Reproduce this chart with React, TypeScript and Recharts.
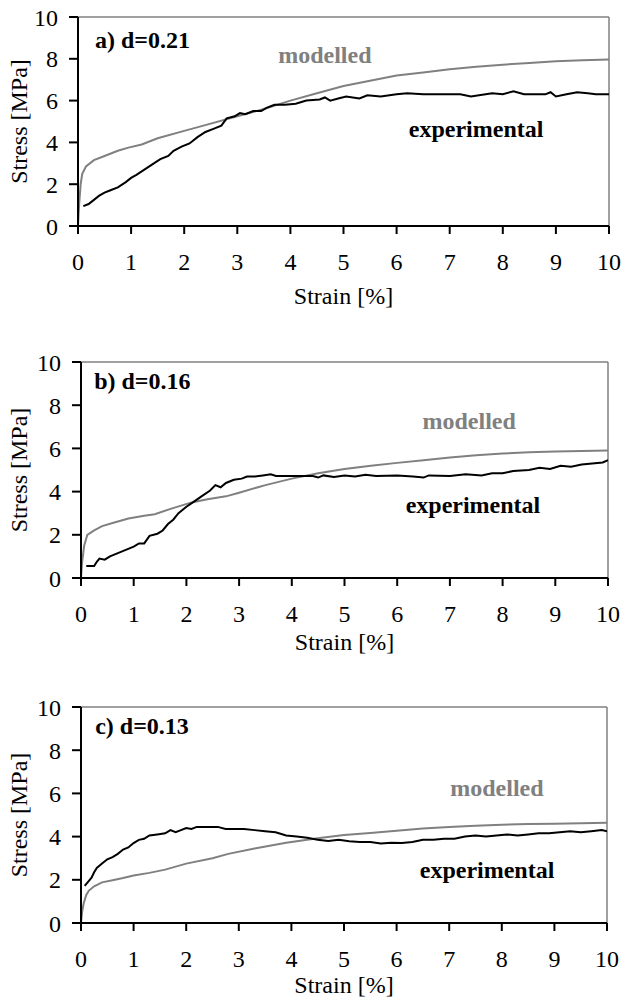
import React from "react";
import {
  LineChart,
  Line,
  XAxis,
  YAxis,
  ReferenceLine,
  ReferenceDot,
} from "recharts";

type Pt = [number, number];

const STRAIN_TICKS = [0, 1, 2, 3, 4, 5, 6, 7, 8, 9, 10];
const STRESS_TICKS = [0, 2, 4, 6, 8, 10];

// a) d=0.21
const modelledA: Pt[] = [
  [0, 0], [0.02, 1.0], [0.05, 2.0], [0.08, 2.5], [0.15, 2.85], [0.3, 3.15],
  [0.5, 3.35], [0.75, 3.6], [0.95, 3.75], [1.2, 3.9], [1.5, 4.2], [2, 4.55],
  [2.5, 4.9], [3, 5.25], [3.5, 5.6], [4, 6.0], [4.5, 6.35], [5, 6.7],
  [5.5, 6.95], [6, 7.2], [6.5, 7.35], [7, 7.5], [7.5, 7.62], [8, 7.72],
  [8.5, 7.8], [9, 7.88], [9.5, 7.93], [10, 7.97],
];
const experimentalA: Pt[] = [
  [0.1, 0.95], [0.2, 1.05], [0.3, 1.25], [0.4, 1.45], [0.5, 1.6], [0.6, 1.7],
  [0.75, 1.85], [0.9, 2.1], [1.0, 2.3], [1.1, 2.45], [1.25, 2.7], [1.4, 2.95],
  [1.55, 3.2], [1.7, 3.35], [1.8, 3.6], [1.95, 3.8], [2.1, 3.95], [2.25, 4.25],
  [2.4, 4.5], [2.55, 4.65], [2.7, 4.8], [2.8, 5.15], [2.95, 5.25], [3.05, 5.4],
  [3.15, 5.35], [3.3, 5.5], [3.45, 5.5], [3.55, 5.65], [3.7, 5.8], [3.9, 5.8],
  [4.1, 5.85], [4.3, 6.0], [4.55, 6.05], [4.65, 6.15], [4.75, 6.0], [4.9, 6.1],
  [5.05, 6.2], [5.3, 6.1], [5.45, 6.25], [5.7, 6.2], [6.0, 6.3], [6.2, 6.35],
  [6.5, 6.3], [6.8, 6.3], [7.2, 6.3], [7.4, 6.2], [7.8, 6.35], [8.0, 6.3],
  [8.2, 6.45], [8.4, 6.3], [8.8, 6.3], [8.9, 6.4], [9.0, 6.2], [9.2, 6.3],
  [9.4, 6.4], [9.6, 6.35], [9.75, 6.3], [10, 6.3],
];

// b) d=0.16
const modelledB: Pt[] = [
  [0, 0], [0.02, 0.7], [0.06, 1.5], [0.12, 2.0], [0.25, 2.2], [0.4, 2.4],
  [0.6, 2.55], [0.9, 2.75], [1.2, 2.88], [1.4, 2.95], [1.7, 3.2], [2.1, 3.5],
  [2.4, 3.65], [2.75, 3.78], [3.0, 3.95], [3.5, 4.3], [4.0, 4.6], [4.5, 4.85],
  [5, 5.05], [5.5, 5.2], [6, 5.33], [6.5, 5.45], [7, 5.58], [7.5, 5.68],
  [8, 5.76], [8.5, 5.82], [9, 5.86], [9.5, 5.88], [10, 5.9],
];
const experimentalB: Pt[] = [
  [0.1, 0.55], [0.25, 0.55], [0.3, 0.75], [0.35, 0.9], [0.45, 0.85], [0.55, 1.0],
  [0.7, 1.15], [0.85, 1.3], [1.0, 1.45], [1.1, 1.6], [1.2, 1.6], [1.3, 1.95],
  [1.45, 2.05], [1.55, 2.2], [1.65, 2.5], [1.75, 2.7], [1.85, 3.0], [2.0, 3.3],
  [2.15, 3.55], [2.3, 3.8], [2.45, 4.05], [2.55, 4.3], [2.65, 4.2], [2.75, 4.4],
  [2.9, 4.55], [3.05, 4.6], [3.15, 4.7], [3.3, 4.7], [3.45, 4.75], [3.6, 4.8],
  [3.7, 4.72], [4.0, 4.72], [4.4, 4.72], [4.5, 4.65], [4.6, 4.75], [4.8, 4.68],
  [5.0, 4.75], [5.2, 4.7], [5.4, 4.78], [5.6, 4.72], [6.0, 4.75], [6.3, 4.7],
  [6.5, 4.65], [6.6, 4.75], [7.0, 4.72], [7.3, 4.8], [7.6, 4.75], [7.8, 4.85],
  [8.0, 4.85], [8.2, 4.95], [8.5, 5.0], [8.7, 5.1], [8.9, 5.05], [9.1, 5.2],
  [9.3, 5.15], [9.5, 5.25], [9.7, 5.3], [9.9, 5.35], [10, 5.45],
];

// c) d=0.13
const modelledC: Pt[] = [
  [0, 0], [0.02, 0.5], [0.05, 0.9], [0.1, 1.3], [0.15, 1.5], [0.25, 1.7],
  [0.4, 1.88], [0.6, 1.98], [0.8, 2.08], [1.0, 2.2], [1.3, 2.32], [1.6, 2.47],
  [2.0, 2.75], [2.5, 3.0], [2.8, 3.2], [3.3, 3.45], [3.9, 3.72], [4.5, 3.92],
  [5, 4.07], [5.5, 4.17], [6, 4.27], [6.5, 4.37], [7, 4.44], [7.5, 4.5],
  [8, 4.55], [8.5, 4.58], [9, 4.6], [9.5, 4.62], [10, 4.64],
];
const experimentalC: Pt[] = [
  [0.07, 1.72], [0.15, 1.95], [0.2, 2.1], [0.25, 2.35], [0.3, 2.55], [0.4, 2.75],
  [0.5, 2.95], [0.6, 3.05], [0.7, 3.2], [0.8, 3.4], [0.9, 3.5], [1.0, 3.7],
  [1.1, 3.85], [1.2, 3.9], [1.3, 4.05], [1.45, 4.1], [1.6, 4.15], [1.7, 4.3],
  [1.8, 4.2], [1.9, 4.3], [2.0, 4.4], [2.1, 4.35], [2.2, 4.45], [2.4, 4.45],
  [2.6, 4.45], [2.75, 4.35], [2.9, 4.35], [3.1, 4.35], [3.3, 4.3], [3.5, 4.25],
  [3.7, 4.2], [3.9, 4.05], [4.1, 4.0], [4.3, 3.95], [4.5, 3.85], [4.7, 3.8],
  [4.9, 3.85], [5.1, 3.78], [5.3, 3.75], [5.5, 3.75], [5.7, 3.68], [5.9, 3.72],
  [6.1, 3.7], [6.3, 3.75], [6.5, 3.85], [6.7, 3.85], [6.9, 3.9], [7.1, 3.9],
  [7.3, 4.0], [7.5, 4.05], [7.7, 4.0], [7.9, 4.05], [8.1, 4.1], [8.3, 4.05],
  [8.5, 4.1], [8.7, 4.15], [8.9, 4.15], [9.1, 4.2], [9.3, 4.25], [9.5, 4.2],
  [9.7, 4.25], [9.9, 4.3], [10, 4.25],
];

const FONT = '"Liberation Serif", "Times New Roman", serif';
const GREY = "#808080";

const toRows = (pts: Pt[]) => pts.map(([strain, stress]) => ({ strain, stress }));

interface PanelProps {
  title: string;
  modelled: Pt[];
  experimental: Pt[];
  top: number;
  height: number;
  margin: { top: number; right: number; bottom: number; left: number };
  xAxisHeight: number;
  strainDy: number;
  titleAt: Pt;
  modelledAt: Pt;
  experimentalAt: Pt;
}

// text placed at a data point, left aligned, baseline on the point
const textAt = (value: string, color: string, bold = true) => (p: any) => {
  const vb = p.viewBox || {};
  return (
    <text
      x={vb.x}
      y={vb.y}
      fill={color}
      fontFamily={FONT}
      fontSize={24}
      fontWeight={bold ? "bold" : "normal"}
      textAnchor="start"
    >
      {value}
    </text>
  );
};

const Panel: React.FC<PanelProps> = (p) => {
  return (
    <div style={{ position: "absolute", left: 0, top: p.top }}>
      <LineChart width={621} height={p.height} margin={p.margin}>
        <XAxis
          type="number"
          dataKey="strain"
          domain={[0, 10]}
          ticks={STRAIN_TICKS}
          interval={0}
          allowDataOverflow
          height={p.xAxisHeight}
          axisLine={{ stroke: "#000", strokeWidth: 2 }}
          tickLine={{ stroke: "#000", strokeWidth: 2 }}
          tickSize={8}
          tickMargin={19}
          tick={{ fill: "#000", fontSize: 24, fontFamily: FONT }}
          label={(lp: any) => {
            const vb = lp.viewBox;
            return (
              <text
                x={vb.x + vb.width / 2}
                y={vb.y + p.strainDy}
                textAnchor="middle"
                fill="#000"
                fontFamily={FONT}
                fontSize={24}
              >
                Strain [%]
              </text>
            );
          }}
        />
        <YAxis
          type="number"
          domain={[0, 10]}
          ticks={STRESS_TICKS}
          interval={0}
          allowDataOverflow
          width={60}
          axisLine={{ stroke: "#000", strokeWidth: 2 }}
          tickLine={{ stroke: "#000", strokeWidth: 2 }}
          tickSize={9}
          tickMargin={11}
          tick={{ fill: "#000", fontSize: 24, fontFamily: FONT }}
          label={(lp: any) => {
            const vb = lp.viewBox;
            const cx = 27;
            const cy = vb.y + vb.height / 2;
            return (
              <text
                x={cx}
                y={cy}
                transform={`rotate(-90, ${cx}, ${cy})`}
                textAnchor="middle"
                fill="#000"
                fontFamily={FONT}
                fontSize={24}
              >
                Stress [MPa]
              </text>
            );
          }}
        />
        <ReferenceLine y={10} stroke={GREY} strokeWidth={1.5} />
        <ReferenceLine x={10} stroke={GREY} strokeWidth={1.5} />
        <Line
          data={toRows(p.modelled)}
          dataKey="stress"
          type="linear"
          stroke={GREY}
          strokeWidth={2}
          dot={false}
          isAnimationActive={false}
        />
        <Line
          data={toRows(p.experimental)}
          dataKey="stress"
          type="linear"
          stroke="#000"
          strokeWidth={2}
          dot={false}
          isAnimationActive={false}
        />
        <ReferenceDot
          x={p.titleAt[0]}
          y={p.titleAt[1]}
          r={0}
          fill="none"
          stroke="none"
          label={textAt(p.title, "#000")}
        />
        <ReferenceDot
          x={p.modelledAt[0]}
          y={p.modelledAt[1]}
          r={0}
          fill="none"
          stroke="none"
          label={textAt("modelled", GREY)}
        />
        <ReferenceDot
          x={p.experimentalAt[0]}
          y={p.experimentalAt[1]}
          r={0}
          fill="none"
          stroke="none"
          label={textAt("experimental", "#000")}
        />
      </LineChart>
    </div>
  );
};

export default function App() {
  return (
    <div
      style={{
        position: "absolute",
        left: 0,
        top: 0,
        width: 621,
        height: 1003,
        background: "#fff",
        overflow: "hidden",
      }}
    >
      <Panel
        title="a) d=0.21"
        modelled={modelledA}
        experimental={experimentalA}
        top={0}
        height={330}
        margin={{ top: 17, right: 12, bottom: 19, left: 18 }}
        xAxisHeight={85}
        strainDy={78}
        titleAt={[0.32, 8.52]}
        modelledAt={[3.77, 7.8]}
        experimentalAt={[6.23, 4.26]}
      />
      <Panel
        title="b) d=0.16"
        modelled={modelledB}
        experimental={experimentalB}
        top={345}
        height={330}
        margin={{ top: 17, right: 13, bottom: 12, left: 21 }}
        xAxisHeight={85}
        strainDy={72}
        titleAt={[0.25, 8.74]}
        modelledAt={[6.48, 6.88]}
        experimentalAt={[6.16, 3.02]}
      />
      <Panel
        title="c) d=0.13"
        modelled={modelledC}
        experimental={experimentalC}
        top={690}
        height={313}
        margin={{ top: 17, right: 14, bottom: 0, left: 21 }}
        xAxisHeight={80}
        strainDy={70}
        titleAt={[0.27, 8.74]}
        modelledAt={[7.02, 5.86]}
        experimentalAt={[6.44, 2.09]}
      />
    </div>
  );
}
